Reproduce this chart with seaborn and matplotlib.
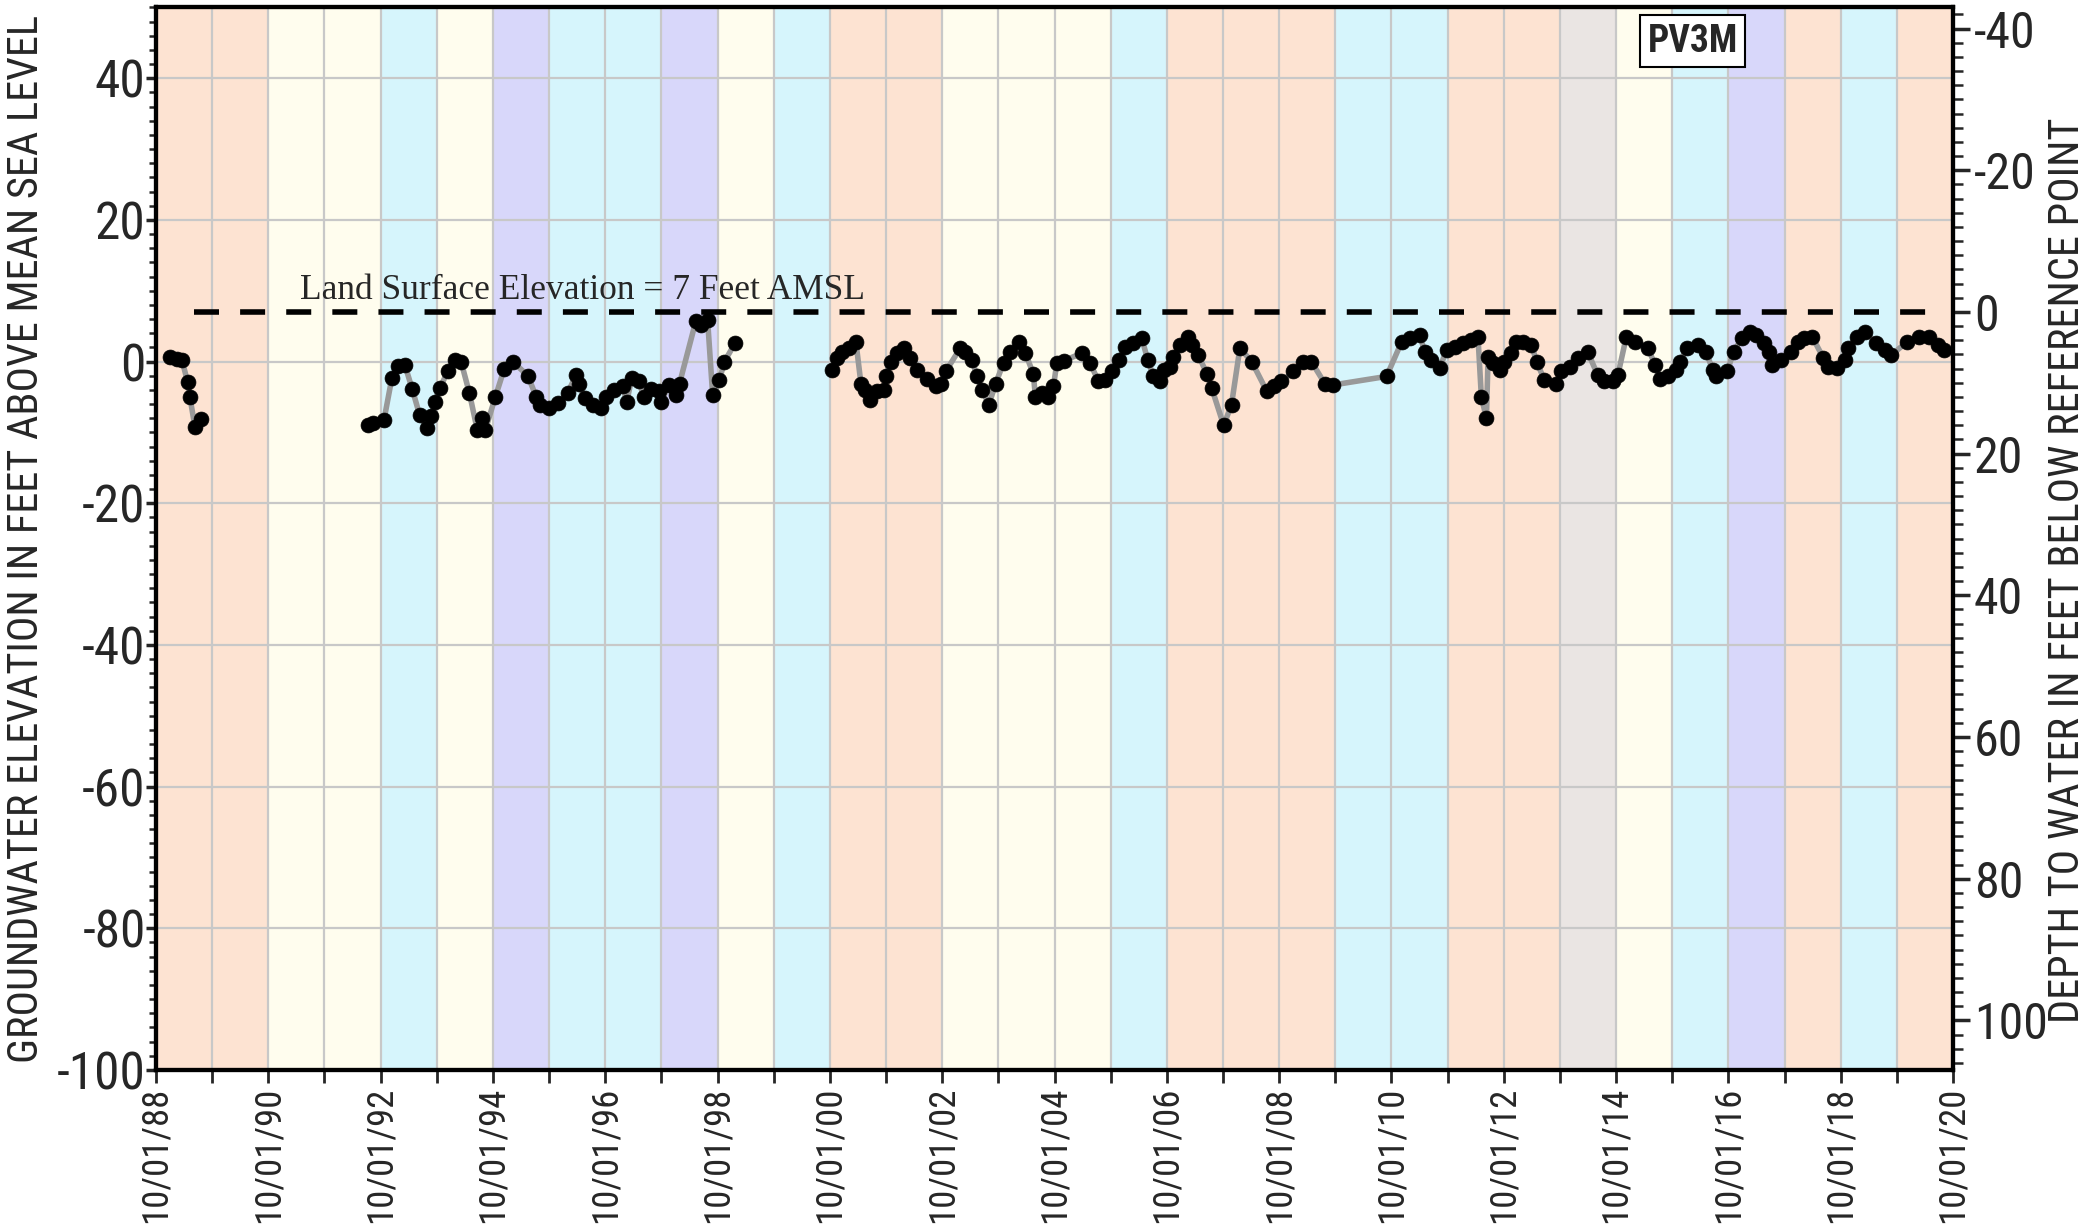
import pandas as pd
import seaborn as sns
import matplotlib
matplotlib.use("Agg")
import matplotlib.pyplot as plt
import matplotlib.dates as mdates
from matplotlib import font_manager
from matplotlib.ticker import MultipleLocator

# water year bands, 10/01/88 .. 10/01/20 (one entry per water year)
band_types = ["BN", "BN", "AN", "AN", "D", "AN", "C", "D", "D", "C", "AN",
              "D", "BN", "BN", "AN", "AN", "AN", "D", "BN", "BN", "BN", "D",
              "D", "BN", "BN", "G", "AN", "D", "C", "BN", "D", "BN"]
band_colors = {"BN": "#fde3d2", "AN": "#fffdee", "D": "#d6f5fc",
               "C": "#d8d7fa", "G": "#eae5e3"}

# groundwater elevation (ft AMSL), decimal years, three measured periods
years_1 = [1989.00, 1989.12, 1989.21, 1989.31, 1989.35, 1989.44, 1989.54]
elev_1 = [0.6, 0.4, 0.2, -2.9, -5.0, -9.2, -8.1]

years_2 = [1992.52, 1992.61, 1992.81, 1992.95, 1993.06, 1993.18, 1993.31,
           1993.44, 1993.58, 1993.65, 1993.71, 1993.80, 1993.94, 1994.07,
           1994.18, 1994.33, 1994.47, 1994.55, 1994.61, 1994.79, 1994.95,
           1995.10, 1995.37, 1995.52, 1995.59, 1995.75, 1995.90, 1996.08,
           1996.23, 1996.29, 1996.38, 1996.53, 1996.67, 1996.76, 1996.91,
           1997.06, 1997.13, 1997.22, 1997.35, 1997.43, 1997.56, 1997.71,
           1997.74, 1997.88, 1998.01, 1998.07, 1998.36, 1998.45, 1998.57,
           1998.66, 1998.78, 1998.87, 1999.06]
elev_2 = [-9.0, -8.7, -8.2, -2.3, -0.6, -0.5, -3.9,
          -7.5, -9.4, -7.7, -5.7, -3.8, -1.4, 0.2,
          0.0, -4.5, -9.7, -7.9, -9.7, -5.0, -1.0,
          0.0, -2.0, -5.0, -6.2, -6.6, -5.8, -4.4,
          -1.9, -3.2, -5.2, -6.1, -6.6, -5.0, -4.0,
          -3.5, -5.7, -2.3, -2.8, -5.0, -3.9, -4.2,
          -5.7, -3.3, -4.7, -3.1, 5.7, 5.2, 5.9,
          -4.7, -2.6, 0.0, 2.6]

years_3 = [2000.79, 2000.88, 2000.97, 2001.09, 2001.21, 2001.30, 2001.38,
           2001.47, 2001.59, 2001.71, 2001.74, 2001.83, 2001.94, 2002.06,
           2002.18, 2002.30, 2002.48, 2002.63, 2002.72, 2002.81, 2003.07,
           2003.16, 2003.28, 2003.37, 2003.46, 2003.58, 2003.70, 2003.84,
           2003.96, 2004.11, 2004.23, 2004.37, 2004.41, 2004.52, 2004.64,
           2004.73, 2004.79, 2004.91, 2005.24, 2005.38, 2005.53, 2005.65,
           2005.77, 2005.89, 2006.01, 2006.15, 2006.30, 2006.41, 2006.51,
           2006.63, 2006.69, 2006.80, 2006.86, 2006.98, 2007.13, 2007.19,
           2007.31, 2007.46, 2007.55, 2007.76, 2007.90, 2008.05, 2008.26,
           2008.53, 2008.65, 2008.79, 2009.00, 2009.18, 2009.32, 2009.56,
           2009.71, 2010.66, 2010.93, 2011.08, 2011.25, 2011.34, 2011.46,
           2011.61, 2011.73, 2011.88, 2012.02, 2012.17, 2012.29, 2012.35,
           2012.44, 2012.47, 2012.56, 2012.68, 2012.76, 2012.88, 2012.97,
           2013.09, 2013.24, 2013.33, 2013.47, 2013.68, 2013.77, 2013.92,
           2014.07, 2014.24, 2014.42, 2014.54, 2014.69, 2014.78, 2014.93,
           2015.08, 2015.32, 2015.44, 2015.53, 2015.67, 2015.82, 2015.88,
           2016.02, 2016.20, 2016.35, 2016.47, 2016.53, 2016.73, 2016.84,
           2016.99, 2017.14, 2017.23, 2017.38, 2017.47, 2017.53, 2017.68,
           2017.86, 2017.98, 2018.10, 2018.24, 2018.44, 2018.53, 2018.68,
           2018.82, 2018.88, 2019.03, 2019.18, 2019.38, 2019.53, 2019.65,
           2019.93, 2020.14, 2020.32, 2020.49, 2020.58]
elev_3 = [-1.2, 0.5, 1.4, 1.9, 2.8, -3.1, -4.0,
          -5.4, -4.2, -4.0, -2.1, 0.0, 1.2, 1.9,
          0.5, -1.2, -2.4, -3.5, -3.1, -1.4, 1.9,
          1.4, 0.2, -2.1, -4.0, -6.1, -3.1, -0.2,
          1.4, 2.8, 1.2, -1.7, -5.0, -4.5, -5.0,
          -3.5, -0.2, 0.1, 1.2, -0.2, -2.8, -2.6,
          -1.4, 0.2, 2.1, 2.6, 3.3, 0.2, -2.1,
          -2.8, -1.2, -0.7, 0.7, 2.4, 3.5, 2.4,
          0.9, -1.7, -3.8, -9.0, -6.1, 1.9, 0.0,
          -4.2, -3.5, -2.8, -1.4, 0.0, 0.0, -3.1,
          -3.3, -2.1, 2.8, 3.3, 3.8, 1.4, 0.2,
          -0.9, 1.7, 2.1, 2.6, 3.1, 3.5, -5.0,
          -8.0, 0.7, -0.2, -1.2, 0.0, 1.2, 2.8,
          2.8, 2.4, 0.0, -2.6, -3.1, -1.4, -0.7,
          0.5, 1.4, -1.9, -2.8, -2.8, -1.9, 3.5,
          2.8, 1.9, -0.5, -2.4, -2.1, -1.2, 0.0,
          1.9, 2.4, 1.4, -1.2, -2.1, -1.4, 1.4,
          3.3, 4.2, 3.8, 2.6, 1.4, -0.5, 0.2,
          1.4, 2.8, 3.3, 3.5, 0.5, -0.7, -0.9,
          0.2, 1.9, 3.5, 4.2, 2.6, 1.7, 0.9,
          2.8, 3.5, 3.5, 2.4, 1.7]

land_surface = 7
land_line_years = [1989.43, 2020.42]
land_text = "Land Surface Elevation = 7 Feet AMSL"
well_name = "PV3M"


def to_date(y):
    yr = int(y)
    return pd.Timestamp(yr, 1, 1) + pd.Timedelta(days=(y - yr) * 365.25)


def build_frame():
    parts = []
    for seg, (yrs, vals) in enumerate([(years_1, elev_1), (years_2, elev_2), (years_3, elev_3)]):
        parts.append(pd.DataFrame({"date": [to_date(y) for y in yrs], "elev": vals, "seg": seg}))
    return pd.concat(parts, ignore_index=True)


def pick_font():
    # a narrow face if there is one, otherwise Liberation Sans scaled down
    names = {f.name for f in font_manager.fontManager.ttflist}
    for name in ["Liberation Sans Narrow", "DejaVu Sans Condensed", "Roboto Condensed"]:
        if name in names:
            return name, 1.0
    return "Liberation Sans", 0.82


sns.set_style("white")
font_name, k = pick_font()
plt.rcParams["font.family"] = [font_name, "DejaVu Sans"]
plt.rcParams["axes.unicode_minus"] = False

df = build_frame()

fig = plt.figure(figsize=(20.92, 12.27), dpi=100)
ax = fig.add_axes([0.0746, 0.128, 0.859, 0.866])

start = pd.Timestamp(1988, 10, 1)
for i, t in enumerate(band_types):
    ax.axvspan(pd.Timestamp(1988 + i, 10, 1), pd.Timestamp(1989 + i, 10, 1),
               color=band_colors[t], lw=0, zorder=0.2)

sns.lineplot(data=df, x="date", y="elev", units="seg", estimator=None, sort=False,
             color="#999999", lw=4, ax=ax, zorder=2)
sns.scatterplot(data=df, x="date", y="elev", color="black", s=115, edgecolor="black",
                linewidth=0.5, ax=ax, zorder=3)

ax.plot([to_date(y) for y in land_line_years], [land_surface, land_surface],
        color="black", lw=4, dashes=(4.5, 3.8), zorder=2.5)
ax.text(to_date(1991.31), land_surface + 1.8, land_text, family="Liberation Serif",
        fontsize=25.5, va="baseline", ha="left", zorder=4)
ax.text(0.855, 0.968, well_name, transform=ax.transAxes, ha="center", va="center",
        fontsize=27 * k, fontweight="bold", zorder=5,
        bbox=dict(boxstyle="square,pad=0.2", fc="white", ec="black", lw=1.5))

ax.set_xlim(start, pd.Timestamp(2020, 10, 1))
ax.set_ylim(-100, 50)
ax.set_yticks(range(-100, 41, 20))
ax.yaxis.set_minor_locator(MultipleLocator(2))
ax.xaxis.set_major_locator(mdates.YearLocator(base=2, month=10, day=1))
ax.xaxis.set_minor_locator(mdates.YearLocator(base=1, month=10, day=1))
ax.xaxis.set_major_formatter(mdates.DateFormatter("%m/%d/%y"))

ax.set_axisbelow(True)
ax.grid(True, axis="x", which="both", color="#c8c8c8", lw=1.6)
ax.grid(True, axis="y", which="major", color="#c8c8c8", lw=1.6)

ax.tick_params(axis="y", which="major", direction="out", length=7, width=2.5,
               labelsize=37 * k, pad=0.5, left=True)
ax.tick_params(axis="y", which="minor", direction="out", length=5, width=1.8, left=True)
ax.tick_params(axis="x", which="both", direction="out", length=9, width=2,
               labelsize=26.5 * k, pad=3, labelrotation=90, bottom=True)

ax.set_xlabel("")
ax.set_ylabel("GROUNDWATER ELEVATION IN FEET ABOVE MEAN SEA LEVEL", fontsize=30.5 * k)
ax.yaxis.set_label_coords(-0.0607, 0.5)
for s in ax.spines.values():
    s.set_color("black")
    s.set_linewidth(3)

ax2 = ax.twinx()
ax2.set_ylim(land_surface + 100, land_surface - 50)
ax2.set_yticks(range(-40, 101, 20))
ax2.yaxis.set_minor_locator(MultipleLocator(2))
ax2.tick_params(axis="y", which="major", direction="out", length=12, width=2.5,
                labelsize=36 * k, pad=3, right=True)
ax2.tick_params(axis="y", which="minor", direction="out", length=7, width=1.8, right=True)
ax2.set_ylabel("DEPTH TO WATER IN FEET BELOW REFERENCE POINT", fontsize=30.5 * k)
ax2.yaxis.set_label_coords(1.052, 0.47)
for s in ax2.spines.values():
    s.set_linewidth(3)
    s.set_color("black")

fig.savefig("out.png", dpi=100)
